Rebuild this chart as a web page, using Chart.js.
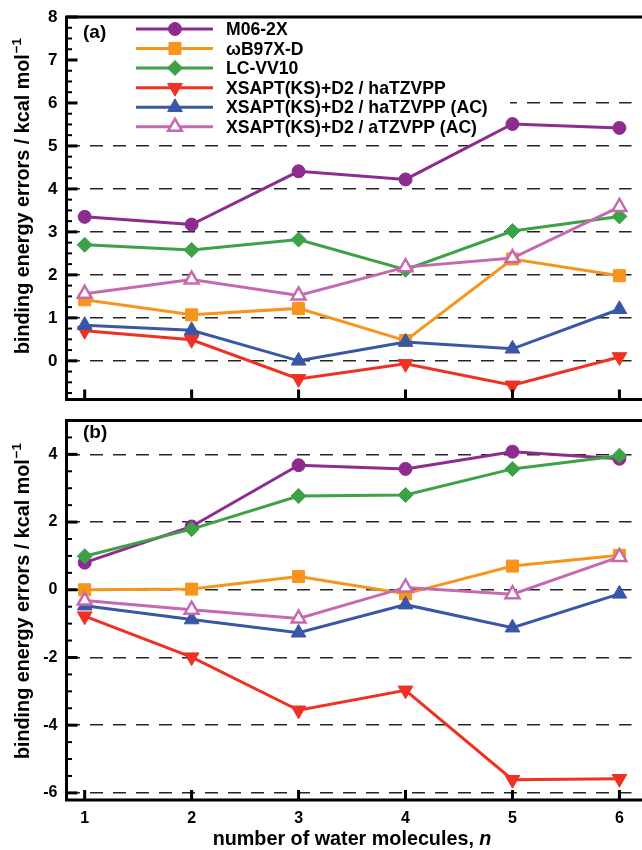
<!DOCTYPE html>
<html><head><meta charset="utf-8">
<script src="https://cdn.jsdelivr.net/npm/chart.js@4/dist/chart.umd.min.js"></script>
<style>
body{margin:0;background:#fff;width:642px;height:850px;overflow:hidden;position:relative}
canvas{position:absolute;left:0}
#ca{top:0}
#cb{top:410px}
</style></head><body>
<canvas id="ca" width="642" height="410"></canvas>
<canvas id="cb" width="642" height="440"></canvas>
<script>
// ---------- data ----------
const nValues = [1, 2, 3, 4, 5, 6];
const seriesNames = ['M06-2X', 'ωB97X-D', 'LC-VV10', 'XSAPT(KS)+D2 / haTZVPP', 'XSAPT(KS)+D2 / haTZVPP (AC)', 'XSAPT(KS)+D2 / aTZVPP (AC)'];

// panel (a)
const a_M062X   = [3.35, 3.17, 4.41, 4.22, 5.51, 5.42];
const a_wB97XD  = [1.42, 1.07, 1.22, 0.47, 2.37, 1.98];
const a_LCVV10  = [2.70, 2.58, 2.82, 2.12, 3.02, 3.36];
const a_XS_ha   = [0.70, 0.49, -0.42, -0.07, -0.57, 0.09];
const a_XS_haAC = [0.83, 0.71, 0.00, 0.44, 0.28, 1.20];
const a_XS_aAC  = [1.56, 1.89, 1.52, 2.18, 2.39, 3.58];

// panel (b)
const b_M062X   = [0.80, 1.87, 3.68, 3.57, 4.08, 3.87];
const b_wB97XD  = [0.00, 0.02, 0.39, -0.12, 0.70, 1.02];
const b_LCVV10  = [0.99, 1.79, 2.77, 2.80, 3.57, 3.96];
const b_XS_ha   = [-0.78, -1.99, -3.56, -2.97, -5.61, -5.58];
const b_XS_haAC = [-0.47, -0.88, -1.27, -0.44, -1.12, -0.12];
const b_XS_aAC  = [-0.32, -0.59, -0.85, 0.07, -0.13, 0.97];

const yTicksA = [0, 1, 2, 3, 4, 5, 6, 7, 8];
const yTicksB = [-6, -4, -2, 0, 2, 4];
const yTitleMain = 'binding energy errors / kcal mol';
const yTitleSup = '−1';
const xTitleMain = 'number of water molecules, ';
const xTitleItalic = 'n';

// ---------- styles ----------
const FONT = '"Liberation Sans", Arial, Helvetica, sans-serif';
const styles = [
  {ps:'circle',   r:6.5, rot:0,   c:'#8E2B8E', f:'#8E2B8E', bw:1},
  {ps:'rect',     r:8.5, rot:0,   c:'#F7941D', f:'#F7941D', bw:1},
  {ps:'rectRot',  r:7.5, rot:0,   c:'#3DA147', f:'#3DA147', bw:1},
  {ps:'triangle', r:8.5, rot:180, c:'#EE3124', f:'#EE3124', bw:1},
  {ps:'triangle', r:8.5, rot:0,   c:'#3A57A6', f:'#3A57A6', bw:1},
  {ps:'triangle', r:8,   rot:0,   c:'#C56AB0', f:'#FFFFFF', bw:2.5}
];
const drawOrder = [6, 5, 4, 3, 2, 1];

function makeDatasets(arrs) {
  return arrs.map((arr, i) => ({
    label: seriesNames[i],
    data: nValues.map((n, k) => ({x: n, y: arr[k]})),
    borderColor: styles[i].c,
    backgroundColor: styles[i].f,
    borderWidth: 3,
    pointStyle: styles[i].ps,
    pointRadius: styles[i].r,
    pointHoverRadius: styles[i].r,
    pointRotation: styles[i].rot,
    pointBorderWidth: styles[i].bw,
    pointBorderColor: styles[i].c,
    pointBackgroundColor: styles[i].f,
    order: drawOrder[i],
    tension: 0,
    clip: false
  }));
}

function drawMarker(ctx, st, x, y) {
  ctx.save();
  ctx.fillStyle = st.f; ctx.strokeStyle = st.c; ctx.lineWidth = st.bw;
  if (Chart.helpers && Chart.helpers.drawPoint) {
    Chart.helpers.drawPoint(ctx, {pointStyle: st.ps, radius: st.r, rotation: st.rot, borderWidth: st.bw}, x, y);
  }
  ctx.restore();
}

function fitSize(ctx, text, target, pre) {
  ctx.font = pre + ' 20px ' + FONT;
  return 20 * target / ctx.measureText(text).width;
}

function drawYTitle(ctx, cy) {
  const s = fitSize(ctx, yTitleMain, 300, 'bold');
  ctx.save();
  ctx.translate(29, cy);
  ctx.rotate(-Math.PI / 2);
  ctx.fillStyle = '#000';
  ctx.textAlign = 'left';
  ctx.textBaseline = 'alphabetic';
  ctx.font = 'bold ' + s + 'px ' + FONT;
  const w1 = ctx.measureText(yTitleMain).width;
  ctx.font = 'bold ' + (s * 0.68) + 'px ' + FONT;
  const w2 = ctx.measureText(yTitleSup).width;
  const x0 = -(w1 + 1 + w2) / 2;
  ctx.font = 'bold ' + s + 'px ' + FONT;
  ctx.fillText(yTitleMain, x0, 0);
  ctx.font = 'bold ' + (s * 0.68) + 'px ' + FONT;
  ctx.fillText(yTitleSup, x0 + w1 + 1, -s * 0.42);
  ctx.restore();
}

function drawFrameAndTicks(chart, minorStep, majorStep, minorFrom, minorTo) {
  const ctx = chart.ctx, ca = chart.chartArea, y = chart.scales.y, x = chart.scales.x;
  ctx.save();
  ctx.strokeStyle = '#000';
  ctx.lineCap = 'butt';
  for (let v = minorFrom; v <= minorTo + 1e-9; v += minorStep) {
    const isMajor = Math.abs(v / majorStep - Math.round(v / majorStep)) < 1e-6;
    const py = y.getPixelForValue(v);
    ctx.lineWidth = isMajor ? 3 : 2;
    ctx.beginPath();
    ctx.moveTo(ca.left, py);
    ctx.lineTo(ca.left + (isMajor ? 11 : 5.5), py);
    ctx.stroke();
  }
  nValues.forEach(n => {
    const px = x.getPixelForValue(n);
    ctx.lineWidth = 3;
    ctx.beginPath();
    ctx.moveTo(px, ca.bottom);
    ctx.lineTo(px, ca.bottom - 10);
    ctx.stroke();
  });
  ctx.lineWidth = 3;
  ctx.beginPath();
  ctx.moveTo(chart.width + 2, ca.top);
  ctx.lineTo(ca.left, ca.top);
  ctx.lineTo(ca.left, ca.bottom);
  ctx.lineTo(chart.width + 2, ca.bottom);
  ctx.stroke();
  ctx.restore();
}

function panelLabel(ctx, txt, x, y) {
  ctx.save();
  ctx.fillStyle = '#000';
  ctx.font = 'bold 19px ' + FONT;
  ctx.textAlign = 'left';
  ctx.textBaseline = 'alphabetic';
  ctx.fillText(txt, x, y);
  ctx.restore();
}

const X_MIN = 0.830, X_MAX = 6.113;
const gridColorFn = allowed => ctx => {
  const v = ctx.tick ? ctx.tick.value : null;
  return (v !== null && allowed.includes(v)) ? '#262626' : 'rgba(0,0,0,0)';
};
const zeroPad = s => { s.paddingTop = 0; s.paddingBottom = 0; s.paddingLeft = 0; s.paddingRight = 0; };

// ---------- chart (a) ----------
const legendPlugin = {
  id: 'customLegendA',
  beforeDatasetsDraw(chart) {
    const ctx = chart.ctx;
    ctx.save();
    ctx.fillStyle = '#fff';
    ctx.fillRect(69, 19, 441, 118);
    const rows = [29, 48.5, 68, 87.7, 107.3, 126.8];
    const ls = fitSize(ctx, seriesNames[4], 262, 'bold');
    seriesNames.forEach((name, i) => {
      const st = styles[i], yy = rows[i];
      ctx.strokeStyle = st.c; ctx.lineWidth = 3;
      ctx.beginPath(); ctx.moveTo(136, yy); ctx.lineTo(213, yy); ctx.stroke();
      drawMarker(ctx, st, 175, yy);
      ctx.fillStyle = '#000';
      ctx.font = 'bold ' + ls + 'px ' + FONT;
      ctx.textAlign = 'left'; ctx.textBaseline = 'alphabetic';
      ctx.fillText(name, 226, yy + 6);
    });
    ctx.restore();
  },
  afterDraw(chart) {
    drawFrameAndTicks(chart, 0.25, 1, -0.75, 8);
    panelLabel(chart.ctx, '(a)', 83, 38);
    drawYTitle(chart.ctx, 196);
  }
};

new Chart(document.getElementById('ca'), {
  type: 'line',
  data: {datasets: makeDatasets([a_M062X, a_wB97XD, a_LCVV10, a_XS_ha, a_XS_haAC, a_XS_aAC])},
  options: {
    responsive: false, animation: false, events: [],
    layout: {padding: {left: 0, right: 0, top: 17, bottom: 7.3}},
    plugins: {legend: {display: false}, tooltip: {enabled: false}},
    scales: {
      x: {type: 'linear', min: X_MIN, max: X_MAX, display: false},
      y: {
        type: 'linear', min: -0.9, max: 8,
        afterFit: s => { s.width = 66.5; zeroPad(s); },
        ticks: {stepSize: 1, includeBounds: false, padding: 9, color: '#000',
                font: {family: FONT, size: 17, weight: 'bold'},
                callback: v => yTicksA.includes(v) ? String(v) : ''},
        grid: {drawTicks: false, color: gridColorFn([0, 1, 2, 3, 4, 5, 6]), lineWidth: 1.6},
        border: {display: false, dash: [13, 10]}
      }
    }
  },
  plugins: [legendPlugin]
});

// ---------- chart (b) ----------
const plotBPlugin = {
  id: 'decorB',
  afterDraw(chart) {
    drawFrameAndTicks(chart, 0.5, 2, -6, 5);
    panelLabel(chart.ctx, '(b)', 83, 28);
    drawYTitle(chart.ctx, 191);
    const ctx = chart.ctx;
    ctx.save();
    const s = fitSize(ctx, xTitleMain + xTitleItalic, 279, 'bold');
    ctx.font = 'bold ' + s + 'px ' + FONT;
    const w1 = ctx.measureText(xTitleMain).width;
    ctx.font = 'italic bold ' + s + 'px ' + FONT;
    const w2 = ctx.measureText(xTitleItalic).width;
    const cx = (chart.scales.x.getPixelForValue(1) + chart.scales.x.getPixelForValue(6)) / 2;
    const x0 = cx - (w1 + w2) / 2;
    ctx.fillStyle = '#000'; ctx.textAlign = 'left'; ctx.textBaseline = 'alphabetic';
    ctx.font = 'bold ' + s + 'px ' + FONT;
    ctx.fillText(xTitleMain, x0, 435);
    ctx.font = 'italic bold ' + s + 'px ' + FONT;
    ctx.fillText(xTitleItalic, x0 + w1, 435);
    ctx.restore();
  }
};

new Chart(document.getElementById('cb'), {
  type: 'line',
  data: {datasets: makeDatasets([b_M062X, b_wB97XD, b_LCVV10, b_XS_ha, b_XS_haAC, b_XS_aAC])},
  options: {
    responsive: false, animation: false, events: [],
    layout: {padding: {left: 0, right: 0, top: 5, bottom: 0}},
    plugins: {legend: {display: false}, tooltip: {enabled: false}},
    scales: {
      x: {
        type: 'linear', min: X_MIN, max: X_MAX,
        afterFit: s => { s.height = 50; zeroPad(s); },
        ticks: {stepSize: 1, includeBounds: false, padding: 9, color: '#000',
                font: {family: FONT, size: 16, weight: 'bold'},
                callback: v => nValues.includes(v) ? String(v) : ''},
        grid: {display: false, drawTicks: false},
        border: {display: false}
      },
      y: {
        type: 'linear', min: -6.21, max: 5,
        afterFit: s => { s.width = 66.5; zeroPad(s); },
        ticks: {stepSize: 2, includeBounds: false, padding: 9, color: '#000',
                font: {family: FONT, size: 16, weight: 'bold'},
                callback: v => yTicksB.includes(v) ? String(v) : ''},
        grid: {drawTicks: false, color: gridColorFn(yTicksB), lineWidth: 1.6},
        border: {display: false, dash: [13, 10]}
      }
    }
  },
  plugins: [plotBPlugin]
});
</script>
</body></html>
